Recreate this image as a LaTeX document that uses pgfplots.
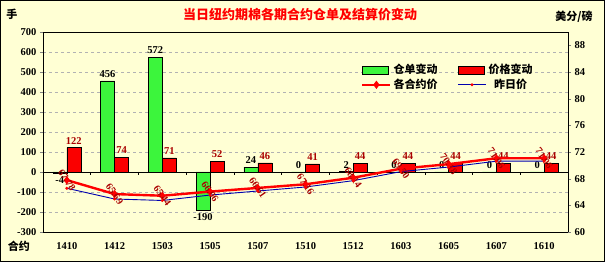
\documentclass[border=0pt]{standalone}
\usepackage{fontspec}
\setmainfont{Liberation Serif}
\newfontfamily\cjk{Noto Sans CJK SC}
\usepackage{pgfplots}
\pgfplotsset{compat=1.18}
\definecolor{bg}{RGB}{255,255,212}
\definecolor{barg}{RGB}{60,245,60}
\definecolor{barr}{RGB}{250,0,0}
\definecolor{lblred}{RGB}{170,0,0}
\definecolor{lineblue}{RGB}{0,0,175}
\pgfplotsset{
  barlegend/.style={legend image code/.code={\draw[##1] (0pt,-4pt) rectangle (26pt,4pt);}},
  linelegend/.style={legend image code/.code={\draw[mark repeat=2,mark phase=2,##1] plot coordinates {(0pt,0pt) (14pt,0pt) (28pt,0pt)};}},
}
\begin{document}
\begin{tikzpicture}[font=\fontsize{10.5}{12}\selectfont]
\fill[bg] (-43pt,-30pt) rectangle (562pt,232pt);
\draw[black, line width=1pt] (-42.5pt,-29.5pt) rectangle (561.5pt,231.5pt);
\node[red, font=\cjk\bfseries\fontsize{13}{15}\selectfont] at (257pt,217pt) {当日纽约期棉各期合约仓单及结算价变动};
\node[font=\cjk\bfseries\fontsize{11}{13}\selectfont] at (-31pt,218pt) {手};
\node[font=\cjk\bfseries\fontsize{11}{13}\selectfont] at (531pt,215pt) {美分/磅};
\node[font=\cjk\bfseries\fontsize{11}{13}\selectfont] at (-24pt,-14pt) {合约};
\begin{axis}[
  at={(0,0)}, anchor=south west,
  scale only axis, width=525pt, height=200pt,
  xmin=-0.5, xmax=10.5, ymin=-300, ymax=700,
  ytick={-300,-200,...,700},
  xtick={0,...,10},
  xticklabels={1410,1412,1503,1505,1507,1510,1512,1603,1605,1607,1610},
  x tick style={draw=none},
  xticklabel style={yshift=-4pt},
  ytick pos=left,
  tick align=outside, major tick length=3pt,
  ymajorgrids, grid style={dashed, gray!60},
  axis line style={line width=0.6pt},
  ybar=0pt, bar width=14pt,
  /pgf/number format/assume math mode=true,
  tick label style={font=\bfseries\fontsize{10.5}{12}\selectfont},
  nodes near coords,
  every node near coord/.append style={font=\bfseries\fontsize{10.5}{12}\selectfont},
]
\addplot[fill=barg, draw=black, line width=0.4pt, every node near coord/.append style={black}] coordinates {(0,-4) (1,456) (2,572) (3,-190) (4,24) (5,0) (6,2) (7,0) (8,0) (9,0) (10,0)};
\addplot[fill=barr, draw=black, line width=0.4pt, every node near coord/.append style={lblred}] coordinates {(0,122) (1,74) (2,71) (3,52) (4,46) (5,41) (6,44) (7,44) (8,44) (9,44) (10,44)};
\draw[line width=0.6pt] (axis cs:-0.5,0) -- (axis cs:10.5,0);
\pgfplotsinvokeforeach{0.5,1.5,2.5,3.5,4.5,5.5,6.5,7.5,8.5,9.5}{\draw[line width=0.6pt] (axis cs:#1,0) -- ([yshift=-3pt]axis cs:#1,0);}
\end{axis}
\begin{axis}[
  at={(0,0)}, anchor=south west,
  scale only axis, width=525pt, height=200pt,
  xmin=-0.5, xmax=10.5, ymin=60, ymax=90,
  ytick={60,64,...,88},
  axis x line=none, axis y line*=right,
  tick align=outside, major tick length=3pt,
  axis line style={line width=0.6pt},
  /pgf/number format/assume math mode=true,
  tick label style={font=\bfseries\fontsize{10.5}{12}\selectfont},
  legend columns=2,
  legend style={at={(0.6,0.86)}, anchor=north west, draw=none, fill=none,
    font=\cjk\bfseries\fontsize{11}{13}\selectfont, /tikz/every even column/.append style={column sep=18pt}},
]
\addlegendimage{fill=barg, draw=black, barlegend}
\addlegendentry{仓单变动}
\addlegendimage{fill=barr, draw=black, barlegend}
\addlegendentry{价格变动}
\addplot[red, line width=2.4pt, mark=diamond*, mark size=2.2pt, linelegend,
  nodes near coords={\pgfmathprintnumber[fixed,fixed zerofill,precision=2]{\pgfplotspointmeta}},
  every node near coord/.style={rotate=-55, anchor=center, lblred, font=\bfseries\fontsize{10}{12}\selectfont}]
  coordinates {(0,67.78) (1,65.69) (2,65.44) (3,66.06) (4,66.61) (5,67.16) (6,68.14) (7,69.50) (8,70.18) (9,71.06) (10,71.06)};
\addlegendentry{各合约价}
\addplot[lineblue, line width=0.9pt, mark=*, mark size=1pt, mark options={fill=red, draw=red}, linelegend]
  coordinates {(0,66.56) (1,64.95) (2,64.73) (3,65.54) (4,66.15) (5,66.75) (6,67.70) (7,69.06) (8,69.74) (9,70.62) (10,70.62)};
\addlegendentry{昨日价}
\end{axis}
\end{tikzpicture}
\end{document}
